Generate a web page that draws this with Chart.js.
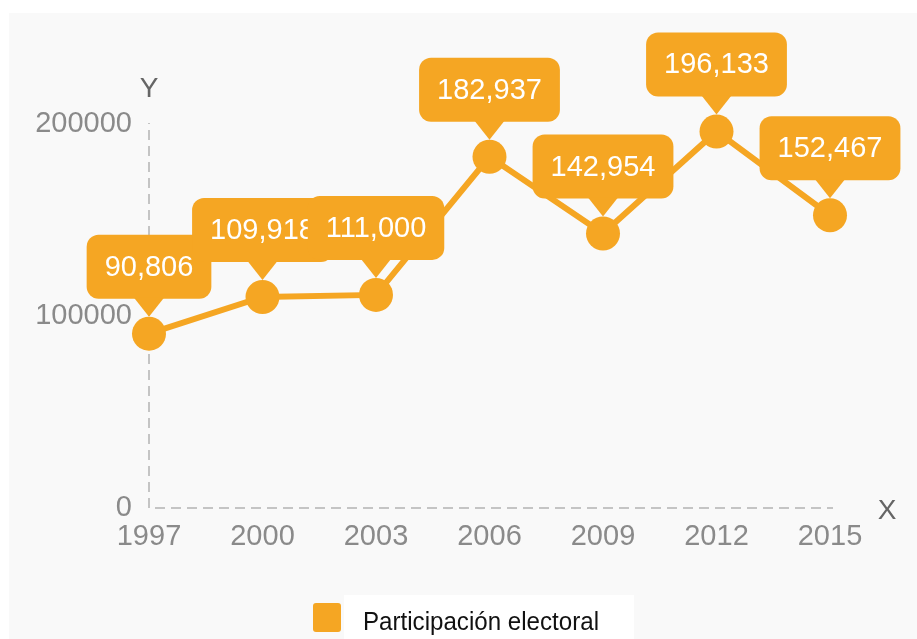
<!DOCTYPE html>
<html>
<head>
<meta charset="utf-8">
<script src="https://cdn.jsdelivr.net/npm/chart.js@4"></script>
<style>
  html, body { margin: 0; padding: 0; background: #ffffff; }
  #wrap { position: relative; width: 917px; height: 639px; }
</style>
</head>
<body>
<div id="wrap"><canvas id="chart" width="917" height="639"></canvas></div>
<script>
// Participación electoral por año
const years = ['1997', '2000', '2003', '2006', '2009', '2012', '2015'];
const turnout = [90806, 109918, 111000, 182937, 142954, 196133, 152467];
const yTicks = [0, 100000, 200000];
const seriesName = 'Participación electoral';

const ORANGE = '#F5A623';
const FONT = '"Liberation Sans", Arial, Helvetica, sans-serif';

// Light panel background plus a white strip behind the legend
const panelBackground = {
  id: 'panelBackground',
  beforeDraw(chart) {
    const ctx = chart.ctx;
    ctx.save();
    ctx.fillStyle = '#ffffff';
    ctx.fillRect(0, 0, chart.width, chart.height);
    ctx.fillStyle = '#f9f9f9';
    ctx.fillRect(9, 13, chart.width - 9, chart.height - 13);
    ctx.fillStyle = '#ffffff';
    ctx.fillRect(344, 595, 290, chart.height - 595);
    ctx.restore();
  }
};

// Dashed axis lines along the left and bottom of the plot area
const dashedAxes = {
  id: 'dashedAxes',
  beforeDatasetsDraw(chart) {
    const ctx = chart.ctx;
    const a = chart.chartArea;
    ctx.save();
    ctx.strokeStyle = '#c4c4c4';
    ctx.lineWidth = 2;
    ctx.setLineDash([10, 6]);
    ctx.beginPath();
    ctx.moveTo(a.left, a.bottom);
    ctx.lineTo(a.left, a.top - 1);
    ctx.stroke();
    ctx.beginPath();
    ctx.moveTo(a.left + 6, a.bottom);
    ctx.lineTo(a.right + 3, a.bottom);
    ctx.stroke();
    ctx.restore();
  }
};

// Rounded callout boxes with a downward pointer above each point
const valueCallouts = {
  id: 'valueCallouts',
  afterDatasetsDraw(chart) {
    const ctx = chart.ctx;
    const meta = chart.getDatasetMeta(0);
    const values = chart.data.datasets[0].data;
    ctx.save();
    ctx.font = '29px ' + FONT;
    ctx.textAlign = 'center';
    ctx.textBaseline = 'middle';
    meta.data.forEach((pt, i) => {
      const text = values[i].toLocaleString('en-US');
      const tw = ctx.measureText(text).width;
      const w = tw + 36;
      const h = 64;
      const tipY = pt.y - 17;
      const bottom = tipY - 18;
      const top = bottom - h;
      const left = pt.x - w / 2;
      ctx.fillStyle = ORANGE;
      ctx.beginPath();
      ctx.roundRect(left, top, w, h, 12);
      ctx.fill();
      ctx.beginPath();
      ctx.moveTo(pt.x - 15, bottom - 1);
      ctx.lineTo(pt.x + 15, bottom - 1);
      ctx.lineTo(pt.x, tipY);
      ctx.closePath();
      ctx.fill();
      ctx.fillStyle = '#ffffff';
      ctx.fillText(text, pt.x, top + h / 2 + 1);
    });
    ctx.restore();
  }
};

// Axis names and the legend entry
const axisNamesAndLegend = {
  id: 'axisNamesAndLegend',
  afterDraw(chart) {
    const ctx = chart.ctx;
    const area = chart.chartArea;
    ctx.save();
    ctx.font = '28px ' + FONT;
    ctx.fillStyle = '#666666';
    ctx.textAlign = 'center';
    ctx.textBaseline = 'middle';
    ctx.fillText('Y', area.left, 89);
    ctx.fillText('X', 887, 511);

    ctx.fillStyle = ORANGE;
    ctx.beginPath();
    ctx.roundRect(313, 603, 28, 29, 3);
    ctx.fill();

    // legend text in a narrow setting
    ctx.fillStyle = '#111111';
    ctx.textAlign = 'left';
    ctx.textBaseline = 'alphabetic';
    ctx.font = '26px ' + FONT;
    const natural = ctx.measureText(seriesName).width;
    const sx = 236 / natural;
    ctx.translate(363, 630);
    ctx.scale(sx, 1);
    ctx.fillText(seriesName, 0, 0);
    ctx.restore();
  }
};

new Chart(document.getElementById('chart'), {
  type: 'line',
  data: {
    labels: years,
    datasets: [{
      label: seriesName,
      data: turnout,
      borderColor: ORANGE,
      backgroundColor: ORANGE,
      borderWidth: 6,
      pointRadius: 17,
      pointHoverRadius: 17,
      pointBorderWidth: 0,
      pointBackgroundColor: ORANGE,
      tension: 0,
      clip: false
    }]
  },
  options: {
    responsive: false,
    animation: false,
    events: [],
    layout: { padding: { left: 0, right: 87, top: 124, bottom: 0 } },
    plugins: {
      legend: { display: false },
      tooltip: { enabled: false }
    },
    scales: {
      x: {
        offset: false,
        grid: { display: false, drawTicks: false },
        border: { display: false },
        ticks: {
          color: '#8a8a8a',
          font: { family: FONT, size: 29 },
          padding: 12,
          maxRotation: 0,
          autoSkip: false
        },
        afterFit(scale) { scale.height = 131; }
      },
      y: {
        min: 0,
        max: 200000,
        afterBuildTicks(scale) { scale.ticks = yTicks.map(v => ({ value: v })); },
        grid: { display: false, drawTicks: false },
        border: { display: false },
        ticks: {
          color: '#8a8a8a',
          font: { family: FONT, size: 29 },
          padding: 17,
          callback: v => String(v)
        },
        afterFit(scale) { scale.width = 149; }
      }
    }
  },
  plugins: [panelBackground, dashedAxes, valueCallouts, axisNamesAndLegend]
});
</script>
</body>
</html>
